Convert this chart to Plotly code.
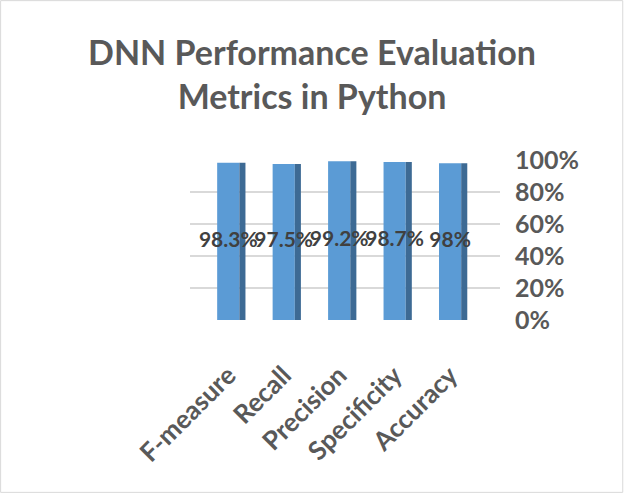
import plotly.graph_objects as go

# Chart data
metrics = ['F-measure', 'Recall', 'Precision', 'Specificity', 'Accuracy']
scores = [98.3, 97.5, 99.2, 98.7, 98]
score_labels = ['98.3%', '97.5%', '99.2%', '98.7%', '98%']
tick_vals = [0, 20, 40, 60, 80, 100]
tick_text = ['0%', '20%', '40%', '60%', '80%', '100%']

W, H = 624, 493
left, right, top, bottom = 190, 124, 160, 173

fig = go.Figure()

# front face of the columns
fig.add_trace(go.Bar(x=metrics, y=scores, width=0.4, offset=-0.2,
                     marker_color='#5b9bd5', marker_line_width=0,
                     hoverinfo='skip'))
# darker side face for a bit of depth
fig.add_trace(go.Bar(x=metrics, y=scores, width=0.11, offset=0.2,
                     marker_color='#3d6a94', marker_line_width=0,
                     hoverinfo='skip'))

# value labels in the middle of each column
fig.add_trace(go.Scatter(x=metrics, y=[s / 2 for s in scores], mode='text',
                         text=score_labels,
                         textfont=dict(family='Lato', size=21, color='#404040',
                                       weight='bold'),
                         hoverinfo='skip'))

fig.update_layout(
    width=W, height=H,
    margin=dict(l=left, r=right, t=top, b=bottom),
    barmode='overlay',
    showlegend=False,
    plot_bgcolor='white',
    paper_bgcolor='white',
    font=dict(family='Lato', color='#595959'),
    title=dict(text='DNN Performance Evaluation<br>Metrics in Python',
               x=0.5, xanchor='center', y=0.868, yanchor='middle',
               font=dict(family='Lato', size=34, color='#595959',
                         weight='bold')),
)

fig.update_xaxes(range=[-0.69, 4.9], tickangle=-45, showgrid=False,
                 showline=False, ticks='', ticklabelstandoff=34,
                 tickfont=dict(family='Lato', size=26, color='#595959',
                               weight='bold'))
fig.update_yaxes(range=[0, 100], side='right', tickvals=tick_vals,
                 ticktext=tick_text, showgrid=True, gridcolor='#d9d9d9',
                 gridwidth=2, zeroline=False, showline=False, ticks='',
                 ticklabelstandoff=14,
                 tickfont=dict(family='Lato', size=25, color='#595959',
                               weight='bold'))

# thin frame round the whole chart
pw = W - left - right
ph = H - top - bottom
fig.add_shape(type='rect', xref='paper', yref='paper',
              x0=-left / pw + 0.002, x1=1 + right / pw - 0.004,
              y0=-bottom / ph + 0.004, y1=1 + top / ph - 0.004,
              line=dict(color='#d9d9d9', width=1))

# drop the page margin so the chart sits at the top left corner
fig.write_html('out.html', config={'displayModeBar': False},
               post_script="document.body.style.margin='0';")
